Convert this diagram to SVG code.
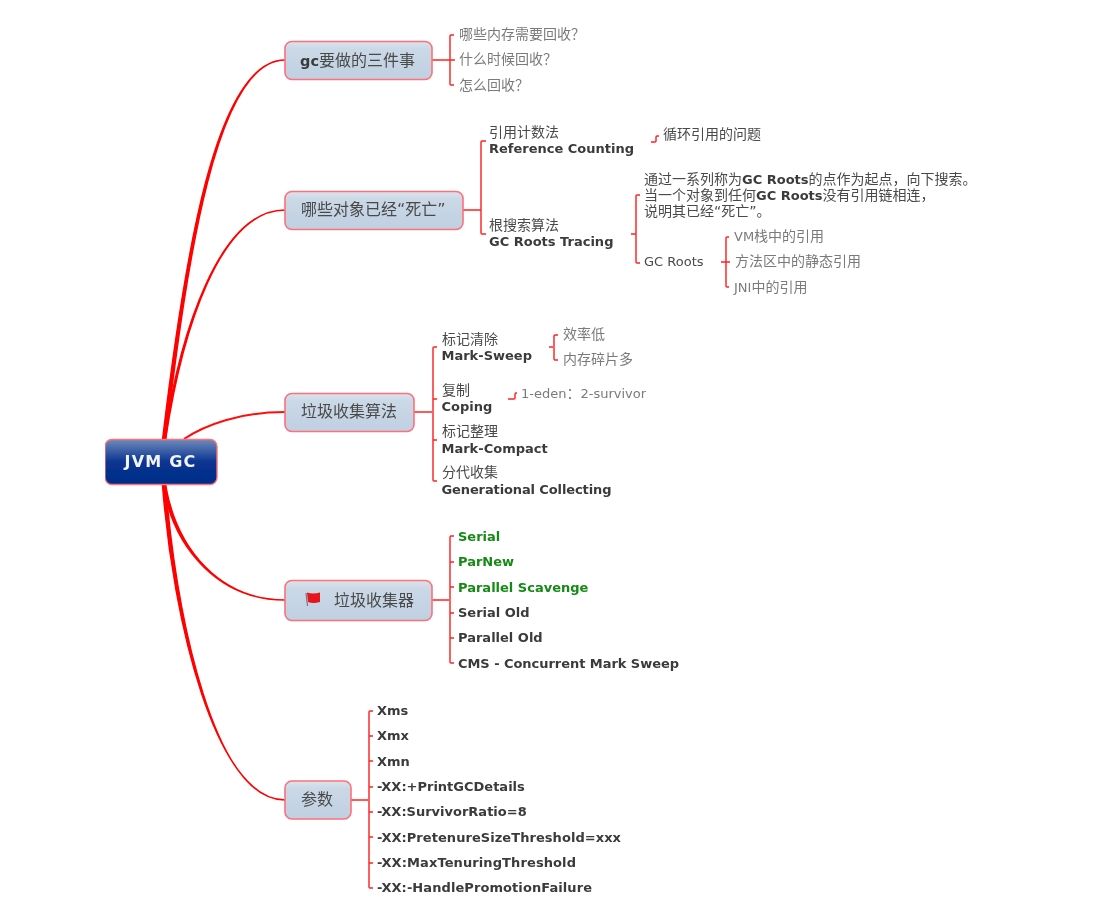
<svg xmlns="http://www.w3.org/2000/svg" width="1097" height="920" viewBox="0 0 1097 920">
<style>
text{font-family:"DejaVu Sans","Noto Sans CJK SC",sans-serif;font-size:14px;fill:#4a4a4a}
.b{font-size:13px;font-weight:700;fill:#3a3a3a}
.g{font-size:13px;font-weight:700;fill:#138a13}
.n{font-size:16px;fill:#4a4a4a}
.l{fill:#7a7a7a}
.s{font-size:13px}
.z{font-family:"Noto Sans CJK SC",sans-serif}
.box{fill:url(#bg);stroke:#ff6f78;stroke-width:1.6}
.c{fill:none;stroke:#ff2020;stroke-width:1.4}
.m{fill:none;stroke:#ff1010;stroke-width:2}
.t{fill:#ff0000;stroke:#ff0000;stroke-width:1.5;stroke-linejoin:round}
</style>
<defs>
<linearGradient id="bg" x1="0" y1="0" x2="0" y2="1"><stop offset="0" stop-color="#dbe4ee"/><stop offset=".2" stop-color="#cbd8e6"/><stop offset="1" stop-color="#bfd0e2"/></linearGradient>
<linearGradient id="rg" x1="0" y1="0" x2="0" y2="1"><stop offset="0" stop-color="#6f8abb"/><stop offset=".5" stop-color="#0a3590"/><stop offset="1" stop-color="#002c88"/></linearGradient>
<filter id="soft" x="0" y="0" width="1" height="1"><feGaussianBlur stdDeviation="0.35"/></filter>
</defs>
<rect width="1097" height="920" fill="#fff"/>
<g filter="url(#soft)">
<g id="connectors">
<path class="t" d="M162.500 440C184 260 215 60 285 60C216 60 187 260 165.500 440Z"/>
<path class="t" d="M164 440C180 330 220 210 285 210C220 210 182 330 165.500 440Z"/>
<path class="m" d="M184 439C205 425 240 412 285 412"/>
<path class="t" d="M163 485C174 550 220 600 285 600C220 600 177 550 165.500 485Z"/>
<path class="t" d="M162.500 485C173 620 215 800 285 800C214 800 177 620 165.500 485Z"/>
<path class="c" d="M432 60H451M454 35H451Q450 35 450 36V84Q450 85 451 85H454M450 60H455"/>
<path class="c" d="M463 210H481M486 141H482Q481 141 481 142V233Q481 234 482 234H486"/>
<path class="c" d="M651 142H655Q656 142 656 141V137Q656 136 657 136H659"/>
<path class="c" d="M631 234H636M640 195H637Q636 195 636 196V262Q636 263 637 263H640"/>
<path class="c" d="M721 262H730M729 237H727Q726 237 726 238V286Q726 287 727 287H729"/>
<path class="c" d="M414 412H432M437 347H434Q433 347 433 348V480Q433 481 434 481H437M433 399H437M433 440H437"/>
<path class="c" d="M549 347H553M558 335H555Q554 335 554 336V359Q554 360 555 360H558"/>
<path class="c" d="M508 399H514Q515 399 515 398V394Q515 393 516 393H517"/>
<path class="c" d="M432 600H449M454 536H451Q450 536 450 537V662Q450 663 451 663H454M450 562H454M450 587H454M450 613H454M450 638H454"/>
<path class="c" d="M351 800H368M373 711H370Q369 711 369 712V887Q369 888 370 888H373M369 736H373M369 761H373M369 787H373M369 812H373M369 837H373M369 863H373"/>
</g>
<g id="root"><rect x="105" y="439.500" width="112" height="45" rx="7" fill="url(#rg)" stroke="#ff6f78" stroke-width="1.4"/><text x="160.500" y="467" text-anchor="middle" style="font-size:16px;font-weight:700;letter-spacing:1.2px;fill:#f2f5fa">JVM GC</text></g>
<g id="n1"><rect class="box" x="285" y="41.500" width="147" height="38" rx="7"/><text class="n" x="300" y="66"><tspan font-size="14.500" font-weight="700" fill="#3a3a3a">gc</tspan>要做的三件事</text></g>
<g id="n1a"><text class="l" x="459" y="39">哪些内存需要回收<tspan class="z">？</tspan></text></g>
<g id="n1b"><text class="l" x="459" y="64">什么时候回收<tspan class="z">？</tspan></text></g>
<g id="n1c"><text class="l" x="459" y="90">怎么回收<tspan class="z">？</tspan></text></g>
<g id="n2"><rect class="box" x="285" y="191.500" width="178" height="38" rx="7"/><text class="n" x="301" y="215">哪些对象已经“死亡”</text></g>
<g id="n2a"><text x="489" y="137">引用计数法</text><text class="b" x="489" y="153">Reference Counting</text></g>
<g id="n2a1"><text x="663" y="139">循环引用的问题</text></g>
<g id="n2b"><text x="489" y="230">根搜索算法</text><text class="b" x="489" y="246">GC Roots Tracing</text></g>
<g id="n2b1"><text x="644" y="184">通过一系列称为<tspan class="b">GC Roots</tspan>的点作为起点，向下搜索。</text><text x="644" y="200">当一个对象到任何<tspan class="b">GC Roots</tspan>没有引用链相连，</text><text x="644" y="216">说明其已经“死亡”。</text></g>
<g id="n2b2"><text class="s" x="644" y="266">GC Roots</text></g>
<g id="n2b2a"><text class="l" x="734" y="241"><tspan class="s">VM</tspan>栈中的引用</text></g>
<g id="n2b2b"><text class="l" x="735" y="266">方法区中的静态引用</text></g>
<g id="n2b2c"><text class="l" x="734" y="292"><tspan class="s">JNI</tspan>中的引用</text></g>
<g id="n3"><rect class="box" x="285" y="393.500" width="129" height="38" rx="7"/><text class="n" x="301" y="417">垃圾收集算法</text></g>
<g id="n3a"><text x="442" y="344">标记清除</text><text class="b" x="441.500" y="360">Mark-Sweep</text></g>
<g id="n3a1"><text class="l" x="563" y="339">效率低</text></g>
<g id="n3a2"><text class="l" x="563" y="364">内存碎片多</text></g>
<g id="n3b"><text x="442" y="395">复制</text><text class="b" x="441.500" y="411">Coping</text></g>
<g id="n3b1"><text class="l" x="521" y="398"><tspan class="s">1-eden</tspan><tspan class="z">：</tspan><tspan class="s">2-survivor</tspan></text></g>
<g id="n3c"><text x="442" y="436">标记整理</text><text class="b" x="441.500" y="452.500">Mark-Compact</text></g>
<g id="n3d"><text x="442" y="477">分代收集</text><text class="b" x="441.500" y="493.500" textLength="170">Generational Collecting</text></g>
<g id="n4"><rect class="box" x="285" y="580.500" width="147" height="40" rx="7"/><path d="M306 593L307.500 606" stroke="#777" stroke-width="1.2" fill="none"/><path d="M307 592.500Q313 594.500 320 592.500L320 602Q313 604 308 602Z" fill="#e8141c"/><text class="n" x="334" y="606">垃圾收集器</text></g>
<g id="n4a"><text class="g" x="458" y="541">Serial</text></g>
<g id="n4b"><text class="g" x="458" y="566">ParNew</text></g>
<g id="n4c"><text class="g" x="458" y="592">Parallel Scavenge</text></g>
<g id="n4d"><text class="b" x="458" y="617">Serial Old</text></g>
<g id="n4e"><text class="b" x="458" y="642">Parallel Old</text></g>
<g id="n4f"><text class="b" x="458" y="668" textLength="221">CMS - Concurrent Mark Sweep</text></g>
<g id="n5"><rect class="box" x="285" y="781" width="66" height="38" rx="7"/><text class="n" x="301" y="805">参数</text></g>
<g id="n5a"><text class="b" x="377" y="715">Xms</text></g>
<g id="n5b"><text class="b" x="377" y="740">Xmx</text></g>
<g id="n5c"><text class="b" x="377" y="766">Xmn</text></g>
<g id="n5d"><text class="b" x="377" y="791">-XX:+PrintGCDetails</text></g>
<g id="n5e"><text class="b" x="377" y="816">-XX:SurvivorRatio=8</text></g>
<g id="n5f"><text class="b" x="377" y="842" textLength="244">-XX:PretenureSizeThreshold=xxx</text></g>
<g id="n5g"><text class="b" x="377" y="867" textLength="199">-XX:MaxTenuringThreshold</text></g>
<g id="n5h"><text class="b" x="377" y="892" textLength="215">-XX:-HandlePromotionFailure</text></g>
</g>
</svg>
